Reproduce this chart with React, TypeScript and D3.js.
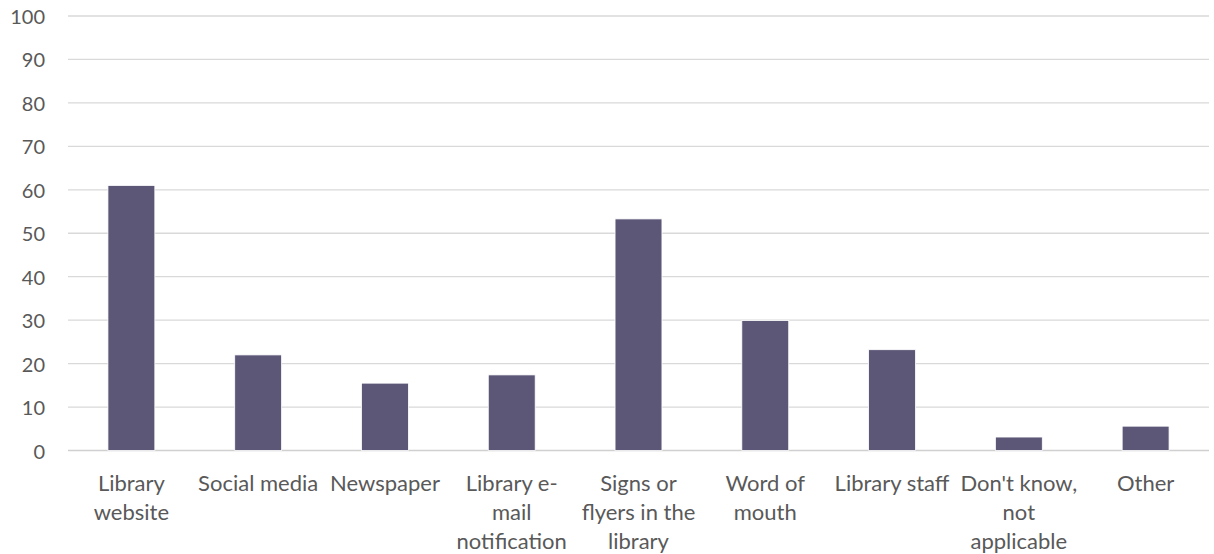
import React from "react";
import * as d3 from "d3";

const categories = [
  "Library\nwebsite",
  "Social media",
  "Newspaper",
  "Library e-\nmail\nnotification",
  "Signs or\nflyers in the\nlibrary",
  "Word of\nmouth",
  "Library staff",
  "Don't know,\nnot\napplicable",
  "Other",
];
const values = [61, 22, 15.5, 17.4, 53.3, 29.9, 23.2, 3.1, 5.6];
const yTicks = [0, 10, 20, 30, 40, 50, 60, 70, 80, 90, 100];

const W = 1214;
const H = 554;
const left = 68;
const right = 1209;
const top = 16;
const bottom = 450.5;
const FONT = "Lato, 'Open Sans', sans-serif";

export default function App() {
  const x = d3
    .scaleBand<number>()
    .domain(d3.range(categories.length))
    .range([left, right])
    .paddingInner(0.63)
    .paddingOuter(0.315);
  const y = d3.scaleLinear().domain([0, 100]).range([bottom, top]);

  return (
    <svg
      width={W}
      height={H}
      style={{ position: "absolute", left: 0, top: 0, background: "#fff" }}
    >
      {yTicks.map((t) => (
        <g key={t}>
          <line
            x1={left}
            x2={right}
            y1={y(t)}
            y2={y(t)}
            stroke={t === 0 ? "#d0d0d0" : "#d9d9d9"}
            strokeWidth={t === 0 ? 1.5 : 1.3}
          />
          <text
            x={45}
            y={y(t)}
            textAnchor="end"
            dominantBaseline="central"
            fontFamily={FONT}
            fontSize={20}
            fill="#595959"
          >
            {t}
          </text>
        </g>
      ))}
      {values.map((v, i) => (
        <rect
          key={i}
          x={x(i)}
          y={y(v)}
          width={x.bandwidth()}
          height={y(0) - y(v)}
          fill="#5c5677"
          stroke="#fff"
          strokeWidth={0.8}
        />
      ))}
      {categories.map((c, i) => (
        <text
          key={i}
          textAnchor="middle"
          fontFamily={FONT}
          fontSize={22}
          fill="#595959"
        >
          {c.split("\n").map((line, j) => (
            <tspan
              key={j}
              x={(x(i) as number) + x.bandwidth() / 2}
              y={482 + j * 29}
              dominantBaseline="central"
            >
              {line}
            </tspan>
          ))}
        </text>
      ))}
    </svg>
  );
}
